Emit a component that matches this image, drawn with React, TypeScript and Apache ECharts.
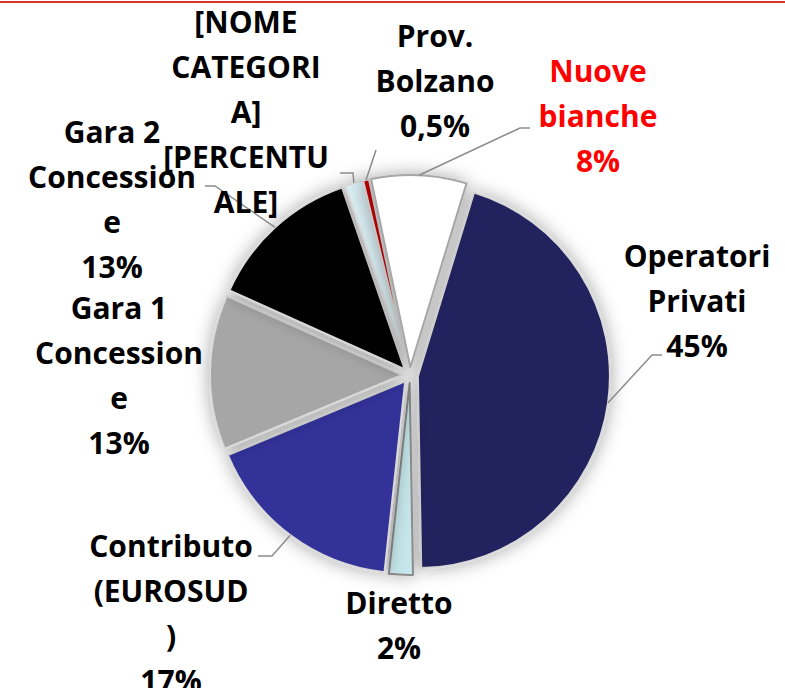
import React, { useEffect, useRef } from 'react';
import * as echarts from 'echarts';

const categories = [
  'Operatori Privati',
  'Diretto',
  'Contributo (EUROSUD)',
  'Gara 1 Concessione',
  'Gara 2 Concessione',
  '[NOME CATEGORIA]',
  'Prov. Bolzano',
  'Nuove bianche',
];
const values = [45, 2, 17, 13, 13, 1.5, 0.5, 8];
const wrappedLabels = [
  'Operatori\nPrivati\n45%',
  'Diretto\n2%',
  'Contributo\n(EUROSUD\n)\n17%',
  'Gara 1\nConcession\ne\n13%',
  'Gara 2\nConcession\ne\n13%',
  '[NOME\nCATEGORI\nA]\n[PERCENTU\nALE]',
  'Prov.\nBolzano\n0,5%',
  'Nuove\nbianche\n8%',
];
const colors = ['#20205E', '#C5E6EA', '#333399', '#A6A6A6', '#000000', '#DAEEF3', '#C00000', '#FFFFFF'];
const borderColors = ['#D9D9D9', '#8C8C8C', '#D9D9D9', '#D9D9D9', '#D9D9D9', '#D9D9D9', '#D9D9D9', '#A6A6A6'];
const labelColors = ['#000', '#000', '#000', '#000', '#000', '#000', '#000', '#FF0000'];
const showLines = [true, false, true, false, true, true, true, true];
const labelPos: number[][] = [
  [697, 300], [399, 625], [171, 613], [119, 375], [112, 199], [246, 111], [435, 80], [598, 115],
];
const lineBends: number[][][] = [
  [[652, 355], [662, 355]],
  [],
  [[272, 556], [258, 556]],
  [],
  [[215, 186], [205, 186]],
  [[353, 173], [340, 173]],
  [[376, 150]],
  [[520, 128], [530, 128]],
];

const CENTER = [410, 375];
const RADIUS = 192;
const EXPLODE = 8;

export default function App() {
  const ref = useRef<HTMLDivElement>(null);
  useEffect(() => {
    document.body.style.margin = '0';
    const chart = echarts.init(ref.current!, null, { renderer: 'svg' });
    chart.setOption({
      animation: false,
      backgroundColor: '#FFFFFF',
      graphic: [
        { type: 'rect', left: 0, top: 1, shape: { width: 785, height: 2 }, style: { fill: '#E0302A' } },
      ],
      series: [
        {
          type: 'pie',
          center: CENTER,
          radius: [0, RADIUS],
          startAngle: 73,
          clockwise: true,
          selectedMode: 'multiple',
          selectedOffset: EXPLODE,
          silent: true,
          label: { show: false },
          labelLine: { show: false },
          data: categories.map((name, i) => ({
            name,
            value: values[i],
            selected: true,
            itemStyle: {
              color: colors[i],
              borderColor: borderColors[i],
              borderWidth: 2,
              shadowBlur: 18,
              shadowColor: 'rgba(0,0,0,0.35)',
            },
          })),
          emphasis: { disabled: true },
        },
        {
          type: 'pie',
          center: CENTER,
          radius: [0, RADIUS],
          startAngle: 73,
          clockwise: true,
          silent: true,
          z: 3,
          data: categories.map((name, i) => ({
            name,
            value: values[i],
            itemStyle: { color: 'rgba(0,0,0,0)', borderWidth: 0 },
            label: { color: labelColors[i] },
            labelLine: { show: showLines[i] },
          })),
          label: {
            show: true,
            position: 'outside',
            formatter: (p: any) => wrappedLabels[p.dataIndex],
            fontFamily: 'Open Sans',
            fontWeight: 'bold',
            fontSize: 30,
            lineHeight: 45,
            align: 'center',
            overflow: 'none',
          },
          labelLine: {
            lineStyle: { color: '#8C8C8C', width: 1.5 },
          },
          labelLayout: (params: any) => {
            const i = params.dataIndex;
            const res: any = {
              x: labelPos[i][0],
              y: labelPos[i][1],
              align: 'center',
              verticalAlign: 'middle',
            };
            if (params.labelLinePoints && showLines[i]) {
              const p0 = params.labelLinePoints[0];
              const dx = p0[0] - CENTER[0];
              const dy = p0[1] - CENTER[1];
              const d = Math.sqrt(dx * dx + dy * dy) || 1;
              const start = [p0[0] + (dx / d) * EXPLODE, p0[1] + (dy / d) * EXPLODE];
              res.labelLinePoints = [start, ...lineBends[i]];
            }
            return res;
          },
          emphasis: { disabled: true },
        },
      ],
    });
    return () => chart.dispose();
  }, []);
  return <div ref={ref} style={{ width: 785, height: 688 }} />;
}
